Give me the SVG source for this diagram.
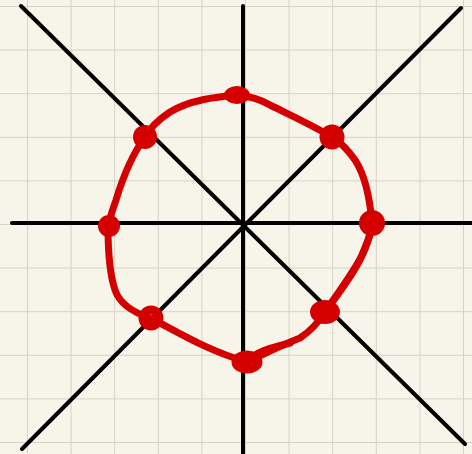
<svg xmlns="http://www.w3.org/2000/svg" width="472" height="454" viewBox="0 0 472 454">
<defs>
<pattern id="grid" x="27" y="6" width="43.6" height="43.6" patternUnits="userSpaceOnUse">
<path d="M0 0V43.6M0 0H43.6" fill="none" stroke="#d6d3c4" stroke-width="2"/>
</pattern>
<style>
.axis{stroke:#000;stroke-width:4;stroke-linecap:round;fill:none}
.curve{stroke:#d40000;stroke-width:7;stroke-linecap:round;stroke-linejoin:round;fill:none}
.dot{fill:#d40000}
.ring{fill:none;stroke:#d40000;stroke-width:9}
</style>
</defs>
<rect width="472" height="454" fill="#f7f5e9"/>
<rect width="472" height="454" fill="url(#grid)"/>
<g id="axes">
<line class="axis" x1="12" y1="223" x2="474" y2="223"/>
<line class="axis" x1="243" y1="6" x2="243" y2="456"/>
<line class="axis" x1="21" y1="6" x2="465" y2="444"/>
<line class="axis" x1="22" y1="449" x2="461" y2="8"/>
</g>
<g id="connectors">
<path class="curve" d="M237 95 C215 97 190 100 170 112 C158 120 150 128 145 137 C132 155 122 180 116 200 C112 212 109 220 108 227 C108 250 110 275 115 290 C120 305 135 313 150 318 C175 330 205 350 247 362 C262 355 275 348 300 338 C312 330 320 320 325 312 C340 290 355 270 362 255 C368 240 372 232 372 223 C370 200 365 175 355 160 C348 150 340 142 332 137 C310 124 290 115 270 105 C258 98 248 96 237 95 Z"/>
<path class="curve" d="M325 312 C340 292 352 276 360 260 C367 246 371 235 372 223" stroke-width="5"/>
<path class="curve" d="M247 362 C255 352 270 348 290 343" stroke-width="6"/>
</g>
<g id="p-top"><ellipse class="dot" cx="237" cy="95" rx="13" ry="9"/></g>
<g id="p-topright"><circle class="ring" cx="332" cy="137" r="8"/></g>
<g id="p-right"><circle class="dot" cx="372" cy="223" r="13"/></g>
<g id="p-bottomright"><ellipse class="dot" cx="325" cy="312" rx="15" ry="12"/></g>
<g id="p-bottom"><ellipse class="ring" cx="247" cy="362" rx="11" ry="7"/></g>
<g id="p-bottomleft"><circle class="ring" cx="151" cy="318" r="8"/></g>
<g id="p-left"><circle class="dot" cx="109" cy="226" r="11"/></g>
<g id="p-topleft"><circle class="dot" cx="145" cy="137" r="12"/></g>
</svg>
